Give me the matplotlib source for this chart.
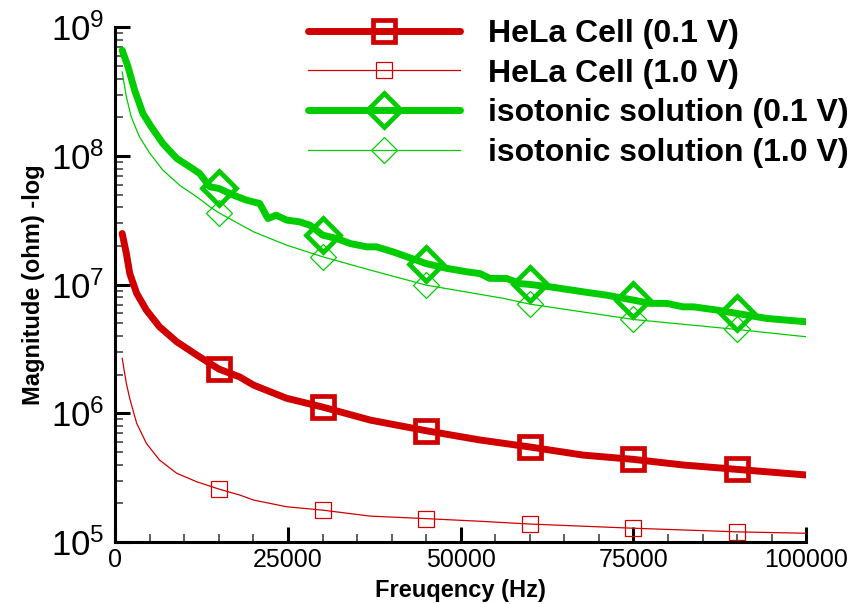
import numpy as np
import matplotlib
matplotlib.use("Agg")
import matplotlib.pyplot as plt
from matplotlib.ticker import MultipleLocator, LogLocator

plt.rcParams['font.family'] = ['Liberation Sans', 'DejaVu Sans']
plt.rcParams['mathtext.fontset'] = 'custom'
plt.rcParams['mathtext.rm'] = 'Liberation Sans'
plt.rcParams['mathtext.it'] = 'Liberation Sans:italic'
plt.rcParams['mathtext.bf'] = 'Liberation Sans:bold'

# data (frequency in Hz, magnitude in ohm)
hela_01_f = [1000, 1600, 2100, 3100, 4500, 6400, 8900, 11800, 15000, 18000, 20000,
             24800, 30000, 36900, 45000, 52800, 60000, 67700, 75000, 82200, 90000, 100000]
hela_01_z = [2.50e7, 1.75e7, 1.22e7, 8.56e6, 6.35e6, 4.71e6, 3.60e6, 2.84e6, 2.21e6, 1.92e6, 1.66e6,
             1.31e6, 1.12e6, 8.87e5, 7.33e5, 6.21e5, 5.48e5, 4.74e5, 4.39e5, 3.97e5, 3.67e5, 3.32e5]

hela_10_f = [1000, 1600, 2100, 3100, 4500, 6400, 8900, 11800, 15000, 18000, 20000,
             24800, 30000, 36900, 45000, 52800, 60000, 75000, 90000, 100000]
hela_10_z = [2.68e6, 1.71e6, 1.30e6, 8.36e5, 5.85e5, 4.34e5, 3.42e5, 2.94e5, 2.58e5, 2.32e5, 2.12e5,
             1.88e5, 1.77e5, 1.59e5, 1.52e5, 1.45e5, 1.38e5, 1.28e5, 1.20e5, 1.17e5]

iso_01_f = [1000, 1850, 2800, 4000, 5200, 6900, 8900, 10800, 12200, 13700, 15000, 17100, 19000,
            20900, 22100, 23300, 24800, 26700, 28200, 30000, 32000, 34000, 36400, 37800, 40200,
            42200, 45000, 48000, 50900, 52800, 54200, 56600, 58600, 60000, 62900, 67700, 71100,
            75000, 77400, 79800, 82200, 83700, 87100, 90000, 94300, 100000]
iso_01_z = [6.65e8, 4.93e8, 3.25e8, 2.14e8, 1.69e8, 1.25e8, 9.58e7, 8.24e7, 7.33e7, 5.77e7, 5.60e7,
            4.97e7, 4.54e7, 4.28e7, 3.27e7, 3.47e7, 3.18e7, 3.08e7, 2.90e7, 2.43e7, 2.29e7, 2.09e7,
            1.97e7, 1.97e7, 1.80e7, 1.65e7, 1.46e7, 1.34e7, 1.26e7, 1.22e7, 1.12e7, 1.12e7, 1.02e7,
            1.005e7, 9.63e6, 8.81e6, 8.30e6, 7.59e6, 7.16e6, 7.16e6, 6.73e6, 6.73e6, 6.35e6, 5.98e6,
            5.47e6, 5.15e6]

iso_10_f = [1000, 1600, 2300, 3500, 5000, 6900, 9300, 11800, 13700, 15000, 20000, 24800, 30000,
            36900, 45000, 56200, 60000, 75000, 90000, 100000]
iso_10_z = [4.51e8, 2.89e8, 2.02e8, 1.41e8, 1.05e8, 7.77e7, 5.94e7, 4.82e7, 4.03e7, 3.62e7, 2.58e7,
            2.03e7, 1.65e7, 1.30e7, 9.93e6, 7.83e6, 7.07e6, 5.37e6, 4.49e6, 3.94e6]

marker_f = [15000, 30000, 45000, 60000, 75000, 90000]

labels = ['HeLa Cell (0.1 V)', 'HeLa Cell (1.0 V)',
          'isotonic solution (0.1 V)', 'isotonic solution (1.0 V)']

red = '#d00000'
green = '#00cc00'

fig = plt.figure(figsize=(8.54, 6.04), dpi=100)
ax = fig.add_axes([0.135, 0.1026, 0.809, 0.852])


def marks(f):
    return list(np.where(np.isin(f, marker_f))[0])


ax.plot(hela_01_f, hela_01_z, color=red, lw=5, marker='s', ms=15.5, mew=3.4,
        mfc='none', markevery=marks(hela_01_f), solid_capstyle='round', label=labels[0])
ax.plot(hela_10_f, hela_10_z, color=red, lw=0.9, marker='s', ms=11.5, mew=0.9,
        mfc='none', markevery=marks(hela_10_f), label=labels[1])
ax.plot(iso_01_f, iso_01_z, color=green, lw=5, marker='D', ms=17, mew=3.4,
        mfc='none', markevery=marks(iso_01_f), solid_capstyle='round', label=labels[2])
ax.plot(iso_10_f, iso_10_z, color=green, lw=0.9, marker='D', ms=13.5, mew=0.9,
        mfc='none', markevery=marks(iso_10_f), label=labels[3])

ax.set_yscale('log')
ax.set_ylim(1e5, 1e9)
ax.set_xlim(0, 100000)
ax.xaxis.set_major_locator(MultipleLocator(25000))
ax.xaxis.set_minor_locator(MultipleLocator(5000))
ax.yaxis.set_major_locator(LogLocator(base=10))
ax.yaxis.set_minor_locator(LogLocator(base=10, subs=np.arange(2, 10)))

for s in ['top', 'right']:
    ax.spines[s].set_visible(False)
for s in ['left', 'bottom']:
    ax.spines[s].set_linewidth(2.2)

ax.tick_params(which='major', direction='in', length=11, width=2.2)
ax.tick_params(which='minor', direction='in', length=6, width=1.2, color='#444444')
ax.tick_params(axis='x', which='major', labelsize=18, pad=4)
ax.tick_params(axis='y', which='major', labelsize=25, pad=8)

ax.set_xlabel('Freuqency (Hz)', fontsize=17, fontweight='bold', labelpad=5)
ax.set_ylabel('Magnitude (ohm) -log', fontsize=17, fontweight='bold', labelpad=4)

leg = ax.legend(loc='upper left', bbox_to_anchor=(308 / 854, 1 - 19 / 604),
                bbox_transform=fig.transFigure, frameon=False,
                prop={'weight': 'bold', 'size': 23}, handlelength=4.75,
                handletextpad=0.87, labelspacing=0.3, borderpad=0, borderaxespad=0)

fig.savefig('out.png', dpi=100)
